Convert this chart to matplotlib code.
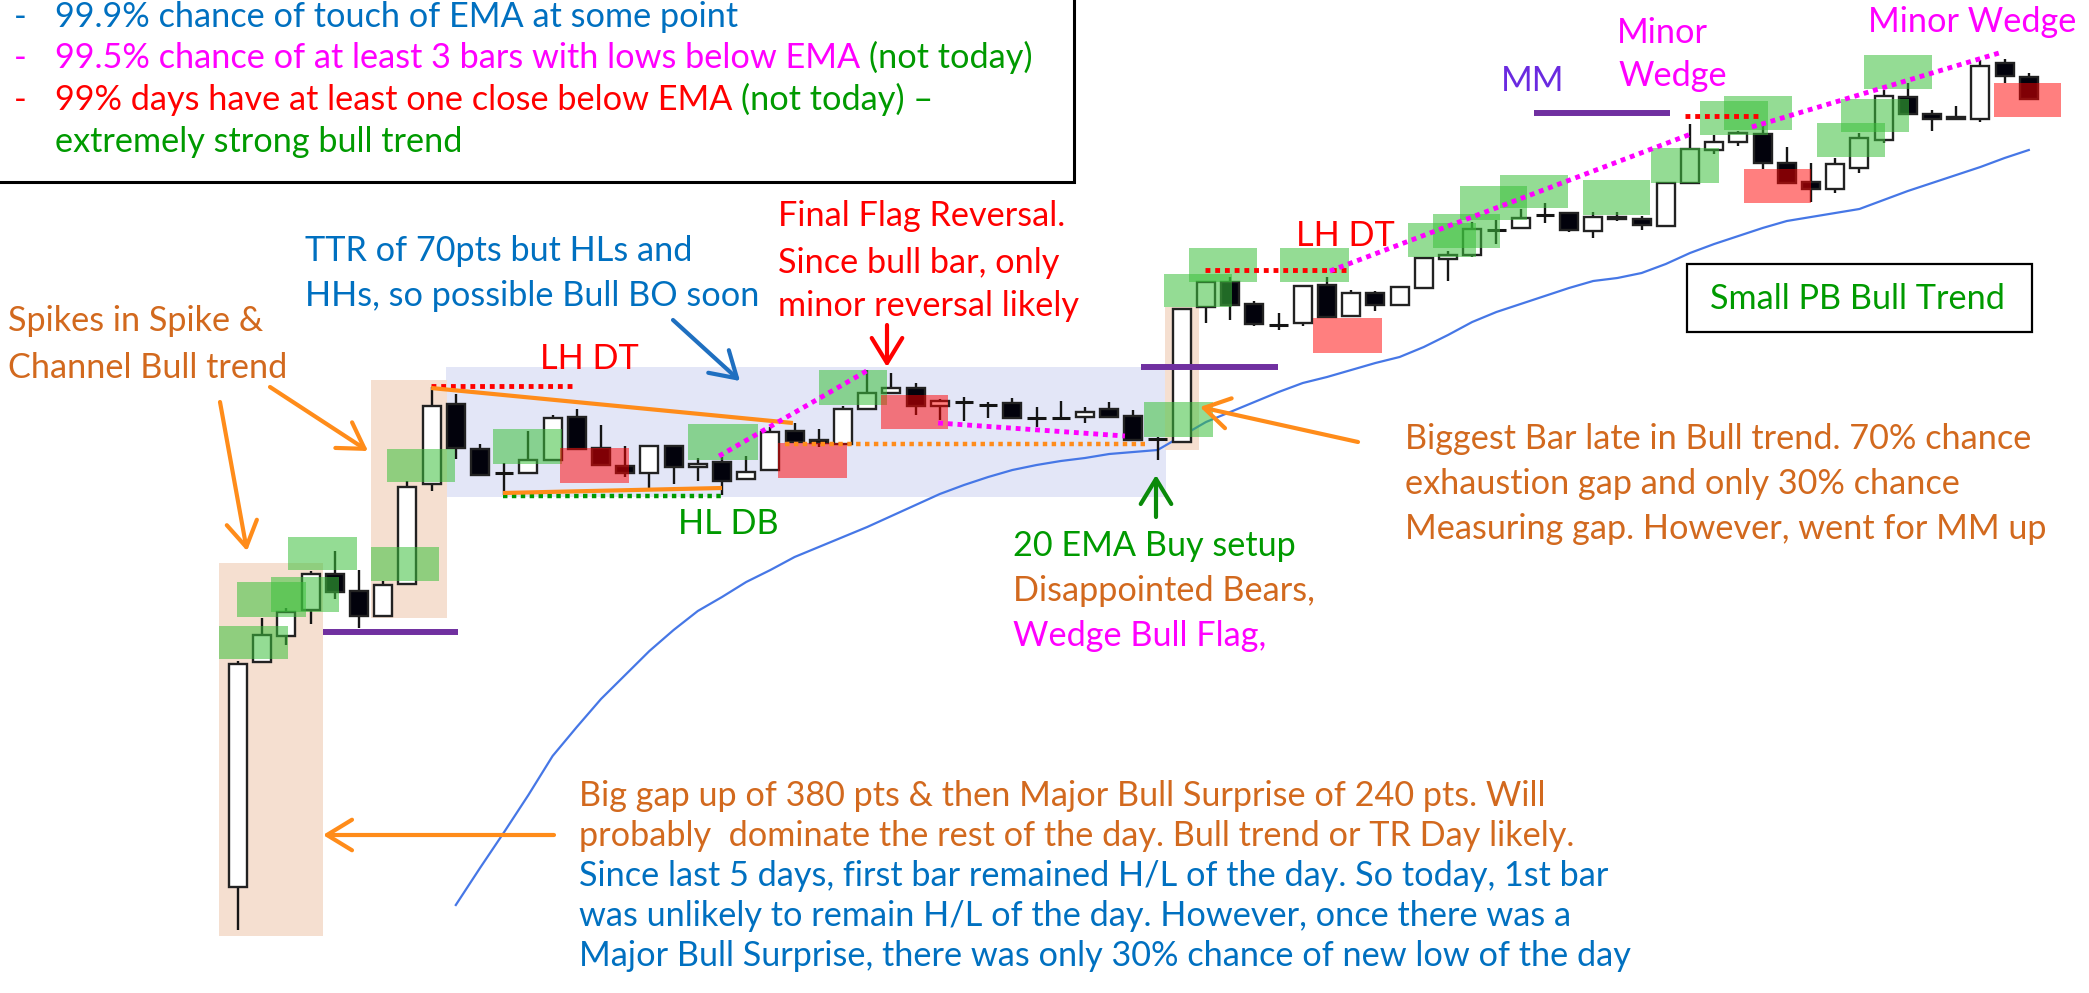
import matplotlib
matplotlib.use("Agg")
import matplotlib.pyplot as plt
from matplotlib.patches import Rectangle

# ---------------- data: 5-min bars of the day (price units) ----------------
opens = [113, 338, 364, 390, 426, 409, 384, 416, 516, 596,
         551, 527, 527, 540, 583, 552, 534, 527, 554, 533,
         538, 521, 530, 569, 560, 556, 591, 607, 612, 594,
         598, 595, 597, 582, 582, 583, 591, 584, 561, 558,
         693, 718, 696, 675, 677, 715, 684, 707, 695, 712,
         741, 745, 770, 772, 785, 787, 769, 783, 781, 774,
         817, 850, 858, 866, 837, 818, 811, 832, 860, 903,
         886, 881, 881, 937, 923]
highs = [339, 382, 392, 429, 449, 430, 419, 519, 613, 606,
         556, 537, 569, 585, 591, 575, 554, 554, 554, 542,
         543, 544, 573, 577, 571, 594, 630, 627, 617, 601,
         603, 598, 602, 593, 599, 593, 598, 590, 563, 692,
         718, 723, 699, 687, 714, 723, 710, 709, 714, 742,
         749, 778, 780, 791, 797, 788, 788, 788, 784, 817,
         876, 865, 869, 875, 853, 837, 842, 867, 910, 917,
         890, 894, 940, 941, 927]
lows = [70, 338, 355, 376, 401, 372, 384, 416, 509, 541,
        525, 505, 527, 540, 551, 535, 523, 512, 516, 519,
        505, 521, 530, 558, 553, 556, 591, 607, 585, 580,
        579, 582, 582, 573, 582, 577, 583, 560, 540, 557,
        677, 680, 674, 670, 674, 683, 683, 689, 695, 712,
        719, 743, 756, 772, 777, 768, 762, 779, 770, 774,
        817, 846, 854, 831, 817, 798, 807, 827, 857, 886,
        869, 881, 878, 917, 901]
closes = [336, 365, 388, 426, 408, 384, 415, 513, 594, 552,
          525, 527, 540, 582, 551, 535, 527, 554, 533, 536,
          519, 528, 568, 558, 557, 591, 607, 612, 594, 599,
          598, 595, 582, 582, 582, 588, 583, 560, 561, 691,
          718, 695, 676, 675, 714, 683, 707, 695, 713, 742,
          745, 771, 770, 782, 785, 770, 783, 781, 775, 817,
          851, 858, 867, 837, 817, 811, 836, 862, 904, 886,
          881, 883, 934, 924, 901]

# 20 EMA, starting at bar 9
ema_start = 9
ema = [95, 132, 168, 205, 244, 273, 301, 325, 349, 370,
       389, 403, 418, 430, 443, 453, 463, 473, 484, 495,
       506, 515, 523, 530, 535, 539, 542, 546, 548, 550,
       564, 578, 588, 598, 608, 617, 623, 630, 637, 643,
       653, 665, 678, 688, 696, 704, 712, 719, 722, 727,
       736, 747, 756, 764, 772, 779, 783, 787, 791, 800,
       809, 817, 825, 833, 842, 850]

# highlight boxes: (left bar, right bar, low, high)
bull_boxes = [(-0.79, 2.07, 341, 374), (-0.04, 2.81, 383, 418), (1.36, 4.17, 388, 423),
              (2.07, 4.92, 430, 463), (5.50, 8.31, 419, 453), (6.16, 8.97, 518, 551),
              (10.54, 13.39, 536, 571), (18.60, 21.49, 540, 576), (24.01, 26.82, 595, 630),
              (37.44, 40.29, 563, 598), (38.26, 41.07, 693, 726), (39.30, 42.11, 718, 752),
              (43.06, 45.91, 718, 752), (48.35, 51.16, 743, 777), (49.38, 52.15, 752, 786),
              (50.50, 53.26, 780, 814), (52.15, 54.96, 792, 825), (55.58, 58.35, 785, 820),
              (58.39, 61.20, 817, 852), (60.41, 63.22, 865, 899), (61.40, 64.21, 870, 904),
              (65.25, 68.06, 843, 877), (66.24, 69.05, 868, 901), (67.19, 70.00, 911, 945)]
bear_boxes = [(13.31, 16.16, 517, 552), (22.31, 25.17, 522, 557), (26.57, 29.34, 571, 605),
              (44.42, 47.27, 647, 682), (62.23, 65.00, 797, 831), (72.56, 75.33, 883, 917)]
spike_boxes = [(-0.79, 3.51, 64, 437), (5.50, 8.64, 382, 620), (38.31, 39.71, 550, 693)]
range_box = (8.60, 38.35, 503, 633)

mm_lines = [(3.51, 9.09, 368), (37.31, 42.98, 633), (53.55, 59.17, 887)]
lh_lines = [(7.98, 13.97, 614), (39.96, 45.91, 730), (59.79, 62.98, 884)]
hl_line = (10.95, 20.04, 504)
gap_line = (22.6, 37.56, 556)
trend_lines = [((7.98, 612), (22.93, 577)), ((10.95, 507), (20.0, 512))]
wedge_lines = [((19.88, 544), (26.12, 631)), ((28.93, 577), (36.65, 564)),
               ((45.12, 729), (60.04, 866)), ((62.56, 873), (72.77, 947))]

# ---------------- colours ----------------
BLUE = '#0070C0'
MAG = '#FF00FF'
RED = '#FF0000'
GREEN = '#009A00'
ORANGE_T = '#D2691E'
ORANGE = '#FF8C1A'
PURPLE = '#7030A0'

W, H = 2089, 993
fig = plt.figure(figsize=(W / 100, H / 100), dpi=100)
ax = fig.add_axes([0, 0, 1, 1])
ax.set_xlim(-238 / 24.2, (W - 238) / 24.2)
ax.set_ylim(7, 1000)
ax.axis('off')

# background zones
x0, x1, lo, hi = range_box
ax.add_patch(Rectangle((x0, lo), x1 - x0, hi - lo, fc='#E3E6F7', ec='none', zorder=0.5))
for x0, x1, lo, hi in spike_boxes:
    ax.add_patch(Rectangle((x0, lo), x1 - x0, hi - lo, fc='#F5DFD0', ec='none', zorder=1))

# EMA
ax.plot(range(ema_start, ema_start + len(ema)), ema, color='#4677E6', lw=1.6, zorder=2)

# candles
for i, (o, h, l, c) in enumerate(zip(opens, highs, lows, closes)):
    ax.vlines(i, l, h, color='#151515', lw=1.7, zorder=3)
    if abs(c - o) < 1.5:
        ax.hlines(o, i - 0.38, i + 0.38, color='#151515', lw=2.2, zorder=4)
    else:
        fc = 'white' if c > o else '#02020c'
        ax.add_patch(Rectangle((i - 0.37, min(o, c)), 0.74, abs(c - o),
                               fc=fc, ec='#222222', lw=1.7, zorder=4))

# signal bar boxes
for x0, x1, lo, hi in bull_boxes:
    ax.add_patch(Rectangle((x0, lo), x1 - x0, hi - lo, fc='#3CC03C', alpha=0.55, ec='none', zorder=5))
for x0, x1, lo, hi in bear_boxes:
    ax.add_patch(Rectangle((x0, lo), x1 - x0, hi - lo, fc='#FF0000', alpha=0.5, ec='none', zorder=5))

# levels and trend lines
dots = (0, (1, 1))
for x0, x1, y in mm_lines:
    ax.plot([x0, x1], [y, y], color=PURPLE, lw=4.3, solid_capstyle='butt', zorder=6)
for x0, x1, y in lh_lines:
    ax.plot([x0, x1], [y, y], color=RED, lw=3.5, ls=dots, dash_capstyle='butt', zorder=6)
ax.plot(hl_line[:2], [hl_line[2]] * 2, color=GREEN, lw=3.2, ls=dots, dash_capstyle='butt', zorder=6)
ax.plot(gap_line[:2], [gap_line[2]] * 2, color=ORANGE, lw=3.2, ls=dots, dash_capstyle='butt', zorder=6)
for (xa, ya), (xb, yb) in trend_lines:
    ax.plot([xa, xb], [ya, yb], color=ORANGE, lw=3, solid_capstyle='butt', zorder=6)
for (xa, ya), (xb, yb) in wedge_lines:
    ax.plot([xa, xb], [ya, yb], color=MAG, lw=3.5, ls=dots, dash_capstyle='butt', zorder=6)


# ---------------- annotations (figure pixels, y from top) ----------------
def arrow(p0, p1, col):
    ax.annotate('', xy=(p1[0], H - p1[1]), xycoords='figure pixels',
                xytext=(p0[0], H - p0[1]), textcoords='figure pixels',
                arrowprops=dict(arrowstyle='->, head_length=0.9, head_width=0.55',
                                color=col, lw=3, mutation_scale=20, shrinkA=0, shrinkB=0),
                zorder=7)


arrow((220, 402), (247, 551), ORANGE)
arrow((270, 387), (368, 451), ORANGE)
arrow((554, 835), (323, 835), ORANGE)
arrow((1358, 442), (1200, 407), ORANGE)
arrow((673, 320), (740, 381), '#1F6FC0')
arrow((887, 325), (887, 367), RED)
arrow((1156, 517), (1156, 475), '#0A8A0A')

FONT = ['Lato', 'DejaVu Sans']
r = fig.canvas.get_renderer()


def text_w(s, fs):
    t = fig.text(0, 0, s, fontsize=fs, family=FONT)
    w = t.get_window_extent(r).width
    t.remove()
    return w


bottom_lines = ["Big gap up of 380 pts & then Major Bull Surprise of 240 pts. Will",
                "probably  dominate the rest of the day. Bull trend or TR Day likely.",
                "Since last 5 days, first bar remained H/L of the day. So today, 1st bar",
                "was unlikely to remain H/L of the day. However, once there was a",
                "Major Bull Surprise, there was only 30% chance of new low of the day"]
FS = 20 * 1056 / text_w(bottom_lines[-1], 20)
SPACE = text_w("x x", FS) - text_w("xx", FS)


def line(x, y, parts, fs=FS):
    em = fs * 100 / 72
    base = H - (y + 0.33 * em)
    cx = x
    for s, col in parts:
        t = fig.text(cx / W, base / H, s, color=col, fontsize=fs, family=FONT,
                     ha='left', va='baseline', zorder=8)
        cx += t.get_window_extent(r).width + SPACE


# top-left box
ax.add_patch(Rectangle((-5 / W, 1 - 182 / H), 1079 / W, 200 / H, transform=fig.transFigure,
                       fc='white', ec='black', lw=2.2, zorder=7))
line(14, 16, [("-", BLUE)])
line(55, 16, [("99.9% chance of touch of EMA at some point", BLUE)])
line(14, 57, [("-", MAG)])
line(55, 57, [("99.5% chance of at least 3 bars with lows below EMA", MAG), ("(not today)", GREEN)])
line(14, 99, [("-", RED)])
line(55, 99, [("99% days have at least one close below EMA", RED), ("(not today) \u2013", GREEN)])
line(55, 141, [("extremely strong bull trend", GREEN)])

line(8, 320, [("Spikes in Spike &", ORANGE_T)])
line(8, 367, [("Channel Bull trend", ORANGE_T)])
line(305, 250, [("TTR of 70pts but HLs and", BLUE)])
line(305, 295, [("HHs, so possible Bull BO soon", BLUE)])
line(540, 358, [("LH DT", RED)])
line(778, 215, [("Final Flag Reversal.", RED)])
line(778, 262, [("Since bull bar, only", RED)])
line(778, 305, [("minor reversal likely", RED)])
line(678, 523, [("HL DB", GREEN)])
line(1296, 235, [("LH DT", RED)])
line(1501, 80, [("MM", '#6A2AE0')])
line(1617, 32, [("Minor", MAG)])
line(1618, 75, [("Wedge", MAG)])
line(1868, 21, [("Minor Wedge", MAG)])

ax.add_patch(Rectangle((1687 / W, 1 - 332 / H), 345 / W, 68 / H, transform=fig.transFigure,
                       fc='white', ec='black', lw=1.6, zorder=7))
line(1710, 298, [("Small PB Bull Trend", GREEN)])

line(1405, 438, [("Biggest Bar late in Bull trend. 70% chance", ORANGE_T)])
line(1405, 483, [("exhaustion gap and only 30% chance", ORANGE_T)])
line(1405, 528, [("Measuring gap. However, went for MM up", ORANGE_T)])

line(1013, 545, [("20 EMA Buy setup", GREEN)])
line(1013, 590, [("Disappointed Bears,", ORANGE_T)])
line(1013, 635, [("Wedge Bull Flag,", MAG)])

for k, s in enumerate(bottom_lines):
    line(579, 795 + 40 * k, [(s, ORANGE_T if k < 2 else BLUE)])

fig.savefig("out.png", dpi=100)
